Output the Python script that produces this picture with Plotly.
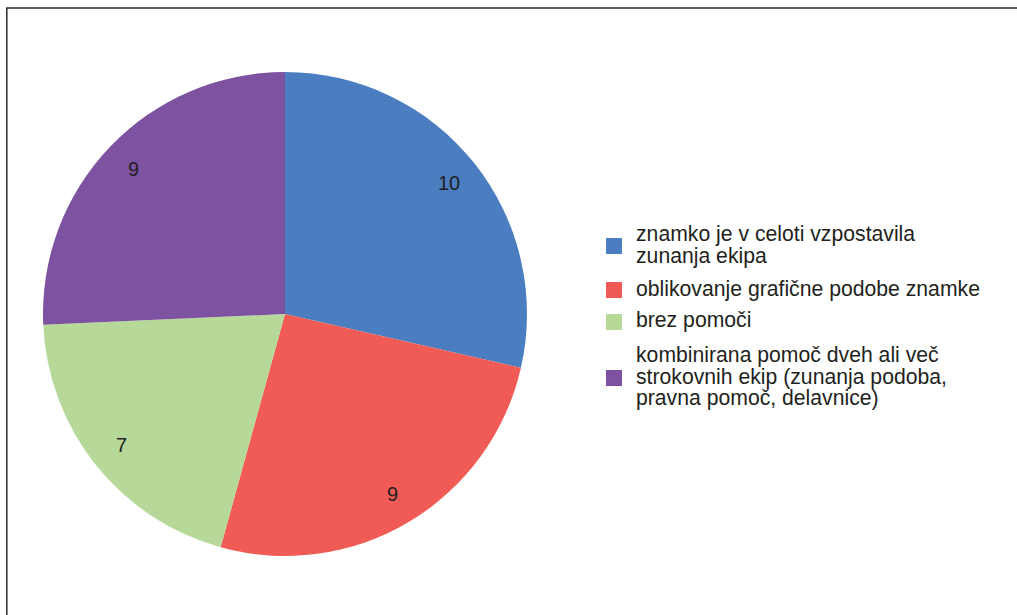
import numpy as np
import plotly.graph_objects as go

# Data
categories = [
    "znamko je v celoti vzpostavila zunanja ekipa",
    "oblikovanje grafične podobe znamke",
    "brez pomoči",
    "kombinirana pomoč dveh ali več strokovnih ekip (zunanja podoba, pravna pomoč, delavnice)",
]
legend_lines = [
    ["znamko je v celoti vzpostavila", "zunanja ekipa"],
    ["oblikovanje grafične podobe znamke"],
    ["brez pomoči"],
    ["kombinirana pomoč dveh ali več", "strokovnih ekip (zunanja podoba,", "pravna pomoč, delavnice)"],
]
values = [10, 9, 7, 9]
colors = ["#4A7EC1", "#F05B55", "#B6D99A", "#7D52A0"]

W, H = 1017, 615
FONT = "Liberation Sans, Arial, sans-serif"
TEXT = "#231F20"

# Pie geometry (pixels)
cx, cy, R = 285, 314, 242

fig = go.Figure(go.Pie(
    labels=categories,
    values=values,
    sort=False,
    direction="clockwise",
    rotation=0,
    marker=dict(colors=colors, line=dict(width=0)),
    textinfo="none",
    hoverinfo="label+value",
    showlegend=False,
    domain=dict(x=[(cx - R) / W, (cx + R) / W],
                y=[(H - cy - R) / H, (H - cy + R) / H]),
))

annotations = []

# Value labels placed along each slice's mid-angle
vals = np.array(values, dtype=float)
cum = np.cumsum(vals) - vals / 2
mid = cum / vals.sum() * 2 * np.pi
r_lab = 0.865 * R
for v, a in zip(values, mid):
    px = cx + r_lab * np.sin(a)
    py = cy - r_lab * np.cos(a)
    annotations.append(dict(
        x=px / W, y=1 - py / H, xref="paper", yref="paper",
        text=str(v), showarrow=False, xanchor="center", yanchor="middle",
        font=dict(family=FONT, size=20, color=TEXT),
    ))

# Legend: colour squares and wrapped labels
shapes = []
sq_top = [238, 282, 314, 370]
first_baseline = [241.5, 296.5, 328, 362.5]
line_gap = 21.8
fs = 21.2
for i, lines in enumerate(legend_lines):
    shapes.append(dict(
        type="rect", xref="paper", yref="paper",
        x0=606 / W, x1=622 / W,
        y0=1 - (sq_top[i] + 16) / H, y1=1 - sq_top[i] / H,
        fillcolor=colors[i], line=dict(width=0),
    ))
    for j, ln in enumerate(lines):
        base = first_baseline[i] + j * line_gap
        mid_y = base - 0.36 * fs
        annotations.append(dict(
            x=634 / W, y=1 - mid_y / H, xref="paper", yref="paper",
            text=ln, showarrow=False, xanchor="left", yanchor="middle",
            font=dict(family=FONT, size=fs, color=TEXT),
        ))

# Chart frame
shapes.append(dict(
    type="rect", xref="paper", yref="paper",
    x0=6.8 / W, x1=1.05, y0=-0.05, y1=1 - 8 / H,
    line=dict(color="#2a2a2a", width=1.5), fillcolor="rgba(0,0,0,0)",
))

fig.update_layout(
    width=W, height=H,
    margin=dict(l=0, r=0, t=0, b=0),
    paper_bgcolor="white", plot_bgcolor="white",
    annotations=annotations, shapes=shapes,
)

fig.write_html("out.html")
